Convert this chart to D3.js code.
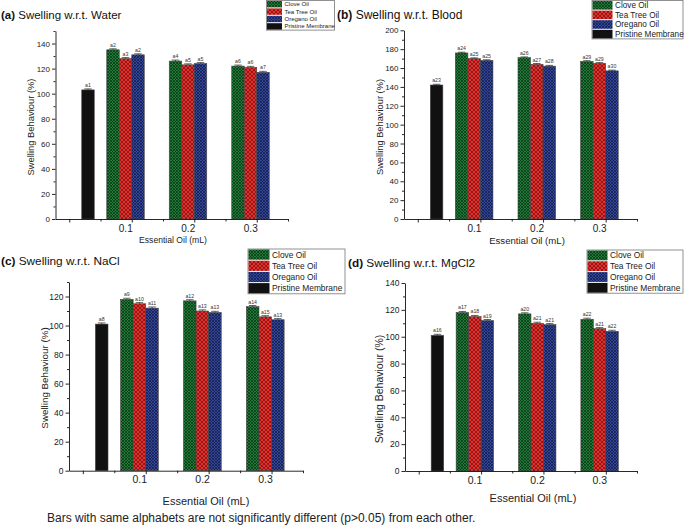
<!DOCTYPE html>
<html>
<head>
<meta charset="utf-8">
<script src="https://cdn.jsdelivr.net/npm/d3@7"></script>
<style>
  body { margin: 0; background: #fff; }
  svg { display: block; font-family: "Liberation Sans", Arial, sans-serif; }
</style>
</head>
<body>
<div id="chart"></div>
<script>
// series + x categories
var seriesNames = ["Clove Oil", "Tea Tree Oil", "Oregano Oil", "Pristine Membrane"];
var oilLevels = [0.1, 0.2, 0.3];
var pristineLevel = 0;
var xTickLabels = ["0.1", "0.2", "0.3"];

// (a) water
var waterClove = [135, 126, 122];
var waterTea = [128, 123, 121];
var waterOregano = [131, 124, 117];
var waterPristine = 103;
var waterLetters = [["a2", "a4", "a6"], ["a3", "a5", "a6"], ["a2", "a5", "a7"], "a1"];

// (b) blood
var bloodClove = [176, 171, 167];
var bloodTea = [170, 164, 165];
var bloodOregano = [168, 162, 157];
var bloodPristine = 142;
var bloodLetters = [["a24", "a26", "a29"], ["a25", "a27", "a29"], ["a25", "a28", "a30"], "a23"];

// (c) NaCl
var naclClove = [118, 117, 113];
var naclTea = [115, 110, 106];
var naclOregano = [112, 109, 104];
var naclPristine = 101;
var naclLetters = [["a9", "a12", "a14"], ["a10", "a13", "a15"], ["a11", "a13", "a13"], "a8"];

// (d) MgCl2
var mgClove = [118, 117, 113];
var mgTea = [115, 110, 106];
var mgOregano = [112, 109, 104];
var mgPristine = 101;
var mgLetters = [["a17", "a20", "a22"], ["a18", "a21", "a21"], ["a19", "a21", "a22"], "a16"];

var errSize = 0.8;

var width = 685, height = 527;
var svg = d3.select("#chart").append("svg")
	.attr("width", width)
	.attr("height", height);

// fills
var defs = svg.append("defs");
var fills = [
	{ id: "pClove", base: "#1f7a36", line: "#0a3315", size: 3 },
	{ id: "pTea", base: "#e5302b", line: "#6e1010", size: 4 },
	{ id: "pOregano", base: "#33479a", line: "#131a45", size: 3 }
];
fills.forEach(function (f) {
	var pat = defs.append("pattern")
		.attr("id", f.id)
		.attr("patternUnits", "userSpaceOnUse")
		.attr("width", f.size)
		.attr("height", f.size);
	pat.append("rect").attr("width", f.size).attr("height", f.size).attr("fill", f.base);
	pat.append("path")
		.attr("d", "M0,0L" + f.size + "," + f.size + "M" + f.size + ",0L0," + f.size)
		.attr("stroke", f.line)
		.attr("stroke-width", 0.7);
});
var seriesFill = ["url(#pClove)", "url(#pTea)", "url(#pOregano)", "#111"];

var panels = [
	{ tag: "(a)", title: "Swelling w.r.t. Water", tx: 1, ty: 19, tfs: 11.5,
	  vals: [waterClove, waterTea, waterOregano], prist: waterPristine, letters: waterLetters,
	  xr: [55.5, 288], yr: [219, 31], yMax: 150, yfs: 8, xfs: 10,
	  ylab: [34, 127], ylfs: 9.4, xlab: [173, 243], xlfs: 8.6,
	  leg: { x: 266.5, y: 0.5, w: 68, rh: 7.4, sw: 15, fs: 6 } },
	{ tag: "(b)", title: "Swelling w.r.t. Blood", tx: 337, ty: 19, tfs: 12,
	  vals: [bloodClove, bloodTea, bloodOregano], prist: bloodPristine, letters: bloodLetters,
	  xr: [404, 637], yr: [219, 30.3], yMax: 200, yfs: 8, xfs: 10,
	  ylab: [383, 127], ylfs: 9.3, xlab: [527, 244], xlfs: 9.6,
	  leg: { x: 592, y: 0.5, w: 91, rh: 9.6, sw: 20, fs: 8.2 } },
	{ tag: "(c)", title: "Swelling w.r.t. NaCl", tx: 1, ty: 265, tfs: 11.8,
	  vals: [naclClove, naclTea, naclOregano], prist: naclPristine, letters: naclLetters,
	  xr: [69, 303], yr: [470.7, 282], yMax: 130, yfs: 8.5, xfs: 10.5,
	  ylab: [48, 378], ylfs: 9.8, xlab: [206, 505], xlfs: 11,
	  leg: { x: 248, y: 249, w: 97, rh: 11.2, sw: 21, fs: 8.4 } },
	{ tag: "(d)", title: "Swelling w.r.t. MgCl2", tx: 348, ty: 267, tfs: 11.8,
	  vals: [mgClove, mgTea, mgOregano], prist: mgPristine, letters: mgLetters,
	  xr: [405, 637], yr: [471, 283], yMax: 140, yfs: 8.5, xfs: 10.5,
	  ylab: [383, 389], ylfs: 10.5, xlab: [533, 502], xlfs: 11,
	  leg: { x: 587, y: 250, w: 96, rh: 10.8, sw: 20, fs: 8.4 } }
];

panels.forEach(drawPanel);

function drawPanel(p) {
	var g = svg.append("g");
	var x = d3.scaleLinear().domain([-0.022, 0.35]).range(p.xr);
	var y = d3.scaleLinear().domain([0, p.yMax]).range(p.yr);
	var bw = x(0.02) - x(0);

	// bars: 4 slots per category, pristine only in the 0 slot
	var bars = [];
	p.vals.forEach(function (arr, s) {
		arr.forEach(function (v, i) {
			bars.push({ cx: x(oilLevels[i]) + (s - 1.5) * bw, v: v, fill: seriesFill[s], lab: p.letters[s][i] });
		});
	});
	bars.push({ cx: x(pristineLevel) + 1.5 * bw, v: p.prist, fill: seriesFill[3], lab: p.letters[3] });

	g.append("g").selectAll("rect")
		.data(bars)
		.enter().append("rect")
		.attr("x", function (d) { return d.cx - bw / 2; })
		.attr("y", function (d) { return y(d.v); })
		.attr("width", bw)
		.attr("height", function (d) { return y(0) - y(d.v); })
		.attr("fill", function (d) { return d.fill; })
		.attr("stroke", "#444")
		.attr("stroke-width", 0.6);

	// error bars
	var eb = g.append("g").attr("stroke", "#222").attr("stroke-width", 0.7);
	bars.forEach(function (d) {
		eb.append("line").attr("x1", d.cx).attr("x2", d.cx).attr("y1", y(d.v)).attr("y2", y(d.v + errSize));
		eb.append("line").attr("x1", d.cx - bw * 0.3).attr("x2", d.cx + bw * 0.3)
			.attr("y1", y(d.v + errSize)).attr("y2", y(d.v + errSize));
	});

	g.append("g").selectAll("text")
		.data(bars)
		.enter().append("text")
		.attr("x", function (d) { return d.cx; })
		.attr("y", function (d) { return y(d.v + errSize) - 2; })
		.attr("text-anchor", "middle")
		.attr("font-size", 5.2)
		.attr("fill", "#333")
		.text(function (d) { return d.lab; });

	// y axis
	var yMajor = d3.range(0, p.yMax + 1, 20);
	var yMinor = d3.range(10, p.yMax + 1, 20);
	var ya = g.append("g").attr("transform", "translate(" + p.xr[0] + ",0)")
		.call(d3.axisLeft(y).tickValues(yMajor).tickSize(3.5).tickSizeOuter(0).tickPadding(2).tickFormat(d3.format("d")));
	ya.selectAll("text").attr("font-size", p.yfs).attr("font-family", null).attr("fill", "#222");
	g.append("g").attr("transform", "translate(" + p.xr[0] + ",0)")
		.call(d3.axisLeft(y).tickValues(yMinor).tickSize(2).tickSizeOuter(0).tickFormat(""))
		.select(".domain").remove();

	// x axis
	g.append("g").attr("transform", "translate(0," + p.yr[0] + ")")
		.call(d3.axisBottom(x).tickValues([0, 0.1, 0.2, 0.3]).tickSize(3.5).tickSizeOuter(0).tickFormat(""));
	g.append("g").attr("transform", "translate(0," + p.yr[0] + ")")
		.call(d3.axisBottom(x).tickValues([0.05, 0.15, 0.25, 0.35]).tickSize(2.5).tickSizeOuter(0).tickFormat(""))
		.select(".domain").remove();
	g.selectAll(".domain, .tick line").attr("stroke", "#111").attr("stroke-width", 0.9);

	g.append("g").selectAll("text")
		.data(oilLevels)
		.enter().append("text")
		.attr("x", function (d) { return x(d) - 6; })
		.attr("y", p.yr[0] + 12.5)
		.attr("text-anchor", "middle")
		.attr("font-size", p.xfs)
		.attr("fill", "#222")
		.text(function (d, i) { return xTickLabels[i]; });

	// axis titles
	g.append("text")
		.attr("transform", "translate(" + p.ylab[0] + "," + p.ylab[1] + ") rotate(-90)")
		.attr("text-anchor", "middle")
		.attr("font-size", p.ylfs)
		.attr("fill", "#222")
		.text("Swelling Behaviour (%)");
	g.append("text")
		.attr("x", p.xlab[0])
		.attr("y", p.xlab[1])
		.attr("text-anchor", "middle")
		.attr("font-size", p.xlfs)
		.attr("fill", "#222")
		.text("Essential Oil (mL)");

	// panel title
	var t = g.append("text")
		.attr("x", p.tx)
		.attr("y", p.ty)
		.attr("font-size", p.tfs)
		.attr("fill", "#111");
	t.append("tspan").attr("font-weight", "bold").text(p.tag + " ");
	t.append("tspan").text(p.title);

	// legend
	var L = p.leg;
	var lg = g.append("g");
	lg.append("rect")
		.attr("x", L.x).attr("y", L.y)
		.attr("width", L.w).attr("height", L.rh * 4)
		.attr("fill", "#fff").attr("stroke", "#777").attr("stroke-width", 0.8);
	seriesNames.forEach(function (name, i) {
		lg.append("rect")
			.attr("x", L.x + 0.5).attr("y", L.y + i * L.rh + 0.5)
			.attr("width", L.sw).attr("height", L.rh - 1)
			.attr("fill", seriesFill[i]);
		lg.append("text")
			.attr("x", L.x + L.sw + 3)
			.attr("y", L.y + i * L.rh + L.rh * 0.78)
			.attr("font-size", L.fs)
			.attr("fill", "#222")
			.text(name);
	});
}

svg.append("text")
	.attr("x", 47)
	.attr("y", 522)
	.attr("font-size", 12)
	.attr("fill", "#222")
	.text("Bars with same alphabets are not significantly different (p>0.05) from each other.");
</script>
</body>
</html>
